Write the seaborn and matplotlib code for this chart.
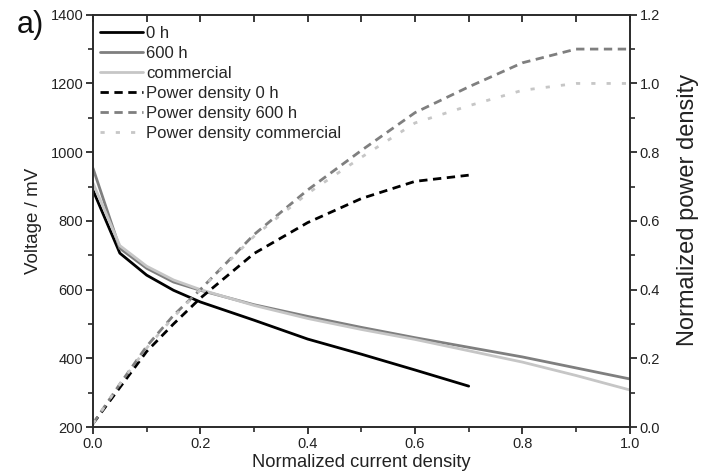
import numpy as np
import pandas as pd
import matplotlib
matplotlib.use("Agg")
import matplotlib.pyplot as plt
from matplotlib.ticker import MultipleLocator, FormatStrFormatter, NullLocator
import seaborn as sns

# Normalized current density sampling points
j_0h = [0.0, 0.05, 0.1, 0.15, 0.2, 0.3, 0.4, 0.5, 0.6, 0.7]
j_full = [0.0, 0.05, 0.1, 0.15, 0.2, 0.3, 0.4, 0.5, 0.6, 0.7, 0.8, 0.9, 1.0]

# Cell voltage (mV)
v_0h = [889, 706, 642, 598, 564, 511, 456, 412, 366, 319]
v_600h = [953, 720, 662, 622, 598, 556, 522, 490, 460, 432, 404, 372, 340]
v_comm = [910, 728, 668, 628, 600, 554, 516, 484, 455, 422, 389, 350, 308]

# Normalized power density
p_0h = [0.01, 0.115, 0.22, 0.30, 0.375, 0.505, 0.595, 0.665, 0.715, 0.733]
p_600h = [0.01, 0.125, 0.235, 0.325, 0.40, 0.56, 0.69, 0.805, 0.915, 0.99, 1.06, 1.10, 1.10]
p_comm = [0.01, 0.125, 0.23, 0.32, 0.40, 0.555, 0.68, 0.785, 0.885, 0.935, 0.98, 1.0, 1.0]

labels_v = ["0 h", "600 h", "commercial"]
labels_p = ["Power density 0 h", "Power density 600 h", "Power density commercial"]
colors = ["#000000", "#7f7f7f", "#c6c6c6"]

sns.set_style("ticks")
plt.rcParams["font.family"] = ["Liberation Sans", "DejaVu Sans"]

fig = plt.figure(figsize=(7.02, 4.75), dpi=100)
ax = fig.add_axes([0.1325, 0.101, 0.7645, 0.868])
ax2 = ax.twinx()

lw = 2.0
handles = []
for j, v, lab, c in zip([j_0h, j_full, j_full], [v_0h, v_600h, v_comm], labels_v, colors):
    df = pd.DataFrame({"j": j, "v": v})
    sns.lineplot(data=df, x="j", y="v", ax=ax, color=c, lw=lw, label=lab, legend=False)
    handles.append(ax.lines[-1])

dash_styles = [(0, (3, 2)), (0, (3, 2)), (0, (1.5, 4))]
for j, p, lab, c, ds in zip([j_0h, j_full, j_full], [p_0h, p_600h, p_comm], labels_p, colors, dash_styles):
    df = pd.DataFrame({"j": j, "p": p})
    sns.lineplot(data=df, x="j", y="p", ax=ax2, color=c, lw=lw, label=lab, legend=False)
    ax2.lines[-1].set_linestyle(ds)
    handles.append(ax2.lines[-1])

ax.set_xlim(0, 1.0)
ax.set_ylim(200, 1400)
ax2.set_ylim(0, 1.2)

ax.xaxis.set_major_locator(MultipleLocator(0.2))
ax.xaxis.set_minor_locator(MultipleLocator(0.1))
ax.yaxis.set_major_locator(MultipleLocator(200))
ax.yaxis.set_minor_locator(MultipleLocator(100))
ax2.yaxis.set_major_locator(MultipleLocator(0.2))
ax2.yaxis.set_minor_locator(MultipleLocator(0.1))

ax.xaxis.set_major_formatter(FormatStrFormatter("%.1f"))
ax2.yaxis.set_major_formatter(FormatStrFormatter("%.1f"))

for a in (ax, ax2):
    for s in a.spines.values():
        s.set_color("#2a2a2a")
        s.set_linewidth(1.2)
        s.set_visible(True)

tick_col = "#2a2a2a"
ax.tick_params(axis="both", which="major", direction="out", length=5, width=1.3,
               color=tick_col, labelsize=10.5, labelcolor="#222222", pad=2)
ax.tick_params(axis="both", which="minor", direction="out", length=3.5, width=1.2, color=tick_col)
ax2.tick_params(axis="y", which="major", direction="out", length=5, width=1.3,
                color=tick_col, labelsize=10.5, labelcolor="#222222", pad=2)
ax2.tick_params(axis="y", which="minor", direction="out", length=3.5, width=1.2, color=tick_col)

# inward ticks along the top edge at every 0.1
ax3 = ax.twiny()
ax3.set_xlim(0, 1.0)
ax3.xaxis.set_major_locator(MultipleLocator(0.1))
ax3.xaxis.set_minor_locator(NullLocator())
ax3.tick_params(axis="x", which="major", direction="in", length=5, width=1.3,
                top=True, labeltop=False, color=tick_col)
ax3.yaxis.set_visible(False)
for s in ax3.spines.values():
    s.set_visible(False)

ax.set_xlabel("Normalized current density", fontsize=13.2, color="#222222", labelpad=2)
ax.set_ylabel("Voltage / mV", fontsize=13.5, color="#222222", labelpad=6)
ax2.set_ylabel("Normalized power density", fontsize=17, color="#222222")
ax2.yaxis.set_label_coords(1.088, 0.526)

ax.legend(handles=handles, labels=labels_v + labels_p, loc="upper left",
          bbox_to_anchor=(0.0, 0.99), frameon=False, fontsize=12,
          handlelength=2.6, handletextpad=0.2, labelspacing=0.3,
          borderaxespad=0.0)

fig.text(0.024, 0.98, "a)", fontsize=22, color="#111111", va="top", ha="left")

fig.savefig("out.png", dpi=100, facecolor="white")
